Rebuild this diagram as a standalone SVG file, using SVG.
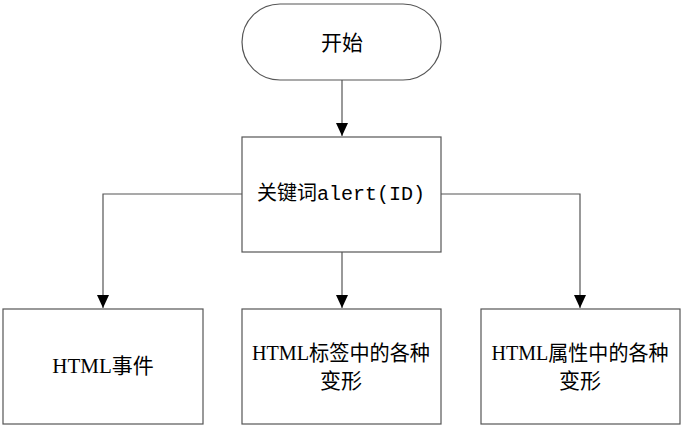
<svg xmlns="http://www.w3.org/2000/svg" width="683" height="428" viewBox="0 0 683 428">
<defs>
<style>
.box{fill:#fff;stroke:#555;stroke-width:1.2}
.edge{fill:none;stroke:#555;stroke-width:1.2}
.t{font-family:"Liberation Serif","Noto Sans CJK SC",serif;font-size:21px;fill:#000;text-anchor:middle;dominant-baseline:central}
.m{font-family:"Liberation Mono","Noto Sans CJK SC",monospace;font-size:20px}
</style>
<marker id="arr" markerUnits="userSpaceOnUse" markerWidth="14" markerHeight="14" viewBox="0 0 14 14" refX="13" refY="7" orient="auto">
<path d="M0,1 L13,7 L0,13 Z" fill="#000"/>
</marker>
</defs>
<g id="connectors">
<path class="edge" d="M342,80 V136" marker-end="url(#arr)"/>
<path class="edge" d="M242,194 H103 V308" marker-end="url(#arr)"/>
<path class="edge" d="M342,252 V308" marker-end="url(#arr)"/>
<path class="edge" d="M441,194 H580 V308" marker-end="url(#arr)"/>
</g>
<g id="start">
<rect class="box" x="242" y="4" width="199" height="76" rx="38" ry="38"/>
<text class="t" x="342" y="43">开始</text>
</g>
<g id="keyword">
<rect class="box" x="242" y="137" width="199" height="115"/>
<text class="t m" x="341" y="194">关键词alert(ID)</text>
</g>
<g id="events">
<rect class="box" x="3" y="309" width="200" height="115"/>
<text class="t" x="103" y="366">HTML事件</text>
</g>
<g id="tags">
<rect class="box" x="242" y="309" width="199" height="115"/>
<text class="t" x="341" y="353" textLength="178" lengthAdjust="spacingAndGlyphs">HTML标签中的各种</text>
<text class="t" x="341" y="381">变形</text>
</g>
<g id="attrs">
<rect class="box" x="481" y="309" width="199" height="115"/>
<text class="t" x="580" y="353" textLength="177" lengthAdjust="spacingAndGlyphs">HTML属性中的各种</text>
<text class="t" x="580" y="381">变形</text>
</g>
</svg>
